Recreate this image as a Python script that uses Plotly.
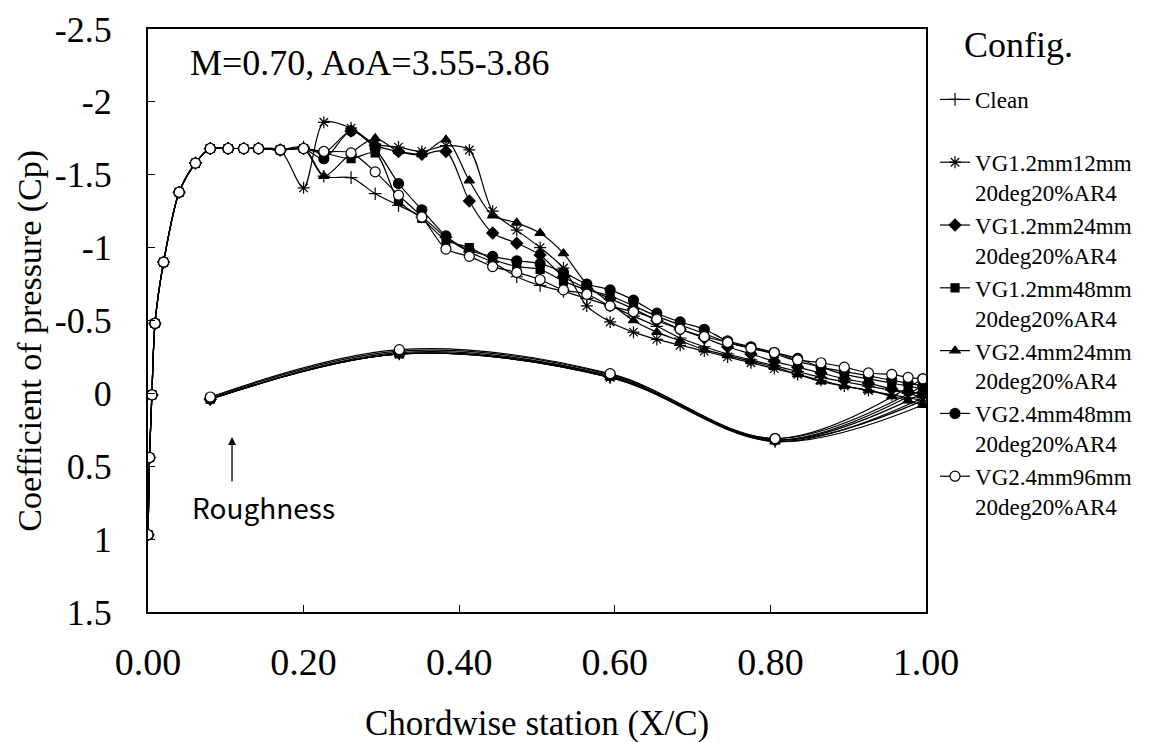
import plotly.graph_objects as go

# ---------------- data ----------------
X_UPPER = [0.000, 0.002, 0.005, 0.009, 0.020, 0.040, 0.061, 0.080, 0.103, 0.123, 0.142, 0.170,
           0.200, 0.226, 0.261, 0.292, 0.322, 0.352, 0.383, 0.413, 0.443, 0.474, 0.504, 0.534,
           0.564, 0.594, 0.624, 0.654, 0.684, 0.715, 0.745, 0.775, 0.805, 0.835, 0.865, 0.895,
           0.926, 0.956, 0.977, 0.996]
X_LOWER = [0.080, 0.323, 0.594, 0.806, 0.996]

CP_CLEAN = [0.97, 0.44, 0.01, -0.48, -0.90, -1.38, -1.58, -1.68, -1.68, -1.68, -1.68, -1.67,
            -1.69, -1.49, -1.48, -1.37, -1.29, -1.21, -1.07, -0.97, -0.90, -0.80, -0.74, -0.70,
            -0.65, -0.60, -0.53, -0.46, -0.38, -0.32, -0.27, -0.23, -0.19, -0.15, -0.11, -0.08,
            -0.05, -0.02, 0.00, 0.03]
CP_VG12_12 = [0.97, 0.44, 0.01, -0.48, -0.90, -1.38, -1.58, -1.68, -1.68, -1.68, -1.68, -1.67,
              -1.41, -1.86, -1.82, -1.71, -1.69, -1.66, -1.70, -1.67, -1.25, -1.12, -1.00, -0.86,
              -0.60, -0.49, -0.42, -0.37, -0.33, -0.29, -0.25, -0.21, -0.17, -0.13, -0.09, -0.05,
              -0.02, 0.01, 0.03, 0.05]
CP_VG12_24 = [0.97, 0.44, 0.01, -0.48, -0.90, -1.38, -1.58, -1.68, -1.68, -1.68, -1.68, -1.67,
              -1.68, -1.65, -1.80, -1.70, -1.66, -1.64, -1.66, -1.32, -1.10, -1.03, -0.95, -0.80,
              -0.72, -0.65, -0.58, -0.50, -0.44, -0.38, -0.32, -0.27, -0.22, -0.18, -0.14, -0.10,
              -0.07, -0.03, -0.01, 0.00]
CP_VG12_48 = [0.97, 0.44, 0.01, -0.48, -0.90, -1.38, -1.58, -1.68, -1.68, -1.68, -1.68, -1.67,
              -1.68, -1.65, -1.61, -1.65, -1.32, -1.20, -1.05, -1.00, -0.92, -0.87, -0.85, -0.77,
              -0.71, -0.67, -0.60, -0.53, -0.47, -0.41, -0.35, -0.31, -0.27, -0.22, -0.18, -0.13,
              -0.10, -0.07, -0.05, -0.03]
CP_VG24_24 = [0.97, 0.44, 0.01, -0.48, -0.90, -1.38, -1.58, -1.68, -1.68, -1.68, -1.68, -1.67,
              -1.68, -1.49, -1.65, -1.75, -1.66, -1.64, -1.74, -1.46, -1.22, -1.17, -1.10, -0.96,
              -0.75, -0.62, -0.50, -0.42, -0.36, -0.30, -0.26, -0.22, -0.18, -0.13, -0.08, -0.05,
              -0.02, 0.02, 0.05, 0.08]
CP_VG24_48 = [0.97, 0.44, 0.01, -0.48, -0.90, -1.38, -1.58, -1.68, -1.68, -1.68, -1.68, -1.67,
              -1.68, -1.61, -1.80, -1.68, -1.44, -1.26, -1.08, -0.98, -0.94, -0.91, -0.89, -0.83,
              -0.75, -0.71, -0.64, -0.55, -0.49, -0.44, -0.36, -0.32, -0.28, -0.24, -0.18, -0.15,
              -0.12, -0.09, -0.07, -0.05]
CP_VG24_96 = [0.97, 0.44, 0.01, -0.48, -0.90, -1.38, -1.58, -1.68, -1.68, -1.68, -1.68, -1.67,
              -1.68, -1.66, -1.65, -1.52, -1.36, -1.21, -0.99, -0.94, -0.87, -0.83, -0.78, -0.71,
              -0.68, -0.60, -0.56, -0.51, -0.44, -0.39, -0.35, -0.31, -0.28, -0.23, -0.21, -0.18,
              -0.14, -0.13, -0.11, -0.10]

CPL_CLEAN = [0.04, -0.27, -0.11, 0.33, 0.03]
CPL_VG12_12 = [0.04, -0.27, -0.11, 0.32, 0.05]
CPL_VG12_24 = [0.04, -0.28, -0.12, 0.32, 0.00]
CPL_VG12_48 = [0.04, -0.27, -0.12, 0.32, -0.03]
CPL_VG24_24 = [0.04, -0.27, -0.11, 0.33, 0.08]
CPL_VG24_48 = [0.03, -0.29, -0.13, 0.31, -0.05]
CPL_VG24_96 = [0.025, -0.30, -0.135, 0.31, -0.10]

NAMES = ["Clean<br> ", "VG1.2mm12mm<br>20deg20%AR4", "VG1.2mm24mm<br>20deg20%AR4",
         "VG1.2mm48mm<br>20deg20%AR4", "VG2.4mm24mm<br>20deg20%AR4",
         "VG2.4mm48mm<br>20deg20%AR4", "VG2.4mm96mm<br>20deg20%AR4"]

X_TICKS = [0.0, 0.2, 0.4, 0.6, 0.8, 1.0]
X_TICK_LABELS = ["0.00", "0.20", "0.40", "0.60", "0.80", "1.00"]
Y_TICKS = [-2.5, -2.0, -1.5, -1.0, -0.5, 0.0, 0.5, 1.0, 1.5]
Y_TICK_LABELS = ["-2.5", "-2", "-1.5", "-1", "-0.5", "0", "0.5", "1", "1.5"]

# ---------------- styles ----------------
UPPER = [CP_CLEAN, CP_VG12_12, CP_VG12_24, CP_VG12_48, CP_VG24_24, CP_VG24_48, CP_VG24_96]
LOWER = [CPL_CLEAN, CPL_VG12_12, CPL_VG12_24, CPL_VG12_48, CPL_VG24_24, CPL_VG24_48, CPL_VG24_96]
SYMBOLS = ["cross-thin-open", "asterisk-open", "diamond", "square", "triangle-up", "circle", "circle"]
SIZES = [9, 10, 9, 8, 9, 10, 10]
FILLS = ["black", "black", "black", "black", "black", "black", "white"]

SERIF = "Liberation Serif"
SANS_JP = "Noto Sans CJK JP"

fig = go.Figure()
for i, name in enumerate(NAMES):
    marker = dict(symbol=SYMBOLS[i], size=SIZES[i], color=FILLS[i],
                  line=dict(color="black", width=1.2))
    fig.add_trace(go.Scatter(
        x=X_UPPER, y=UPPER[i], mode="lines+markers", name=name,
        line=dict(color="black", width=1.2, shape="spline", smoothing=0.8),
        marker=marker, legendgroup=str(i), showlegend=True))
    fig.add_trace(go.Scatter(
        x=X_LOWER, y=LOWER[i], mode="lines+markers", name=name,
        line=dict(color="black", width=1.2, shape="spline", smoothing=1.0),
        marker=marker, legendgroup=str(i), showlegend=False))

fig.update_layout(
    width=1157, height=742,
    margin=dict(l=140, r=239, t=21, b=138, autoexpand=False),
    paper_bgcolor="white", plot_bgcolor="white",
    font=dict(family=SERIF, color="black"),
    showlegend=True,
    legend=dict(x=1.0116, y=0.916, xanchor="left", yanchor="top",
                font=dict(family=SERIF, size=23, color="black"),
                valign="top", tracegroupgap=0, itemwidth=30,
                bgcolor="rgba(0,0,0,0)"),
)
fig.update_xaxes(range=[0, 1], tickvals=X_TICKS, ticktext=X_TICK_LABELS,
                 ticks="inside", ticklen=7, tickcolor="black",
                 showline=True, linecolor="black", linewidth=2, mirror=True,
                 showgrid=False, zeroline=False, automargin=False,
                 tickfont=dict(family=SERIF, size=38), ticklabelstandoff=15)
fig.update_yaxes(range=[1.5, -2.5], tickvals=Y_TICKS, ticktext=Y_TICK_LABELS,
                 ticks="inside", ticklen=7, tickcolor="black",
                 showline=True, linecolor="black", linewidth=2, mirror=True,
                 showgrid=False, zeroline=False, automargin=False,
                 ticklabeloverflow="allow",
                 tickfont=dict(family=SERIF, size=36), ticklabelstandoff=27)

# titles and notes
fig.add_annotation(text="Chordwise station (X/C)", xref="paper", yref="paper",
                   x=0.5, y=-0.192, xanchor="center", yanchor="middle", showarrow=False,
                   font=dict(family=SERIF, size=35))
fig.add_annotation(text="Coefficient of pressure (Cp)", xref="paper", yref="paper",
                   x=-0.152, y=0.465, xanchor="center", yanchor="middle",
                   textangle=-90, showarrow=False,
                   font=dict(family=SERIF, size=34))
fig.add_annotation(text="M=0.70, AoA=3.55-3.86", xref="paper", yref="paper",
                   x=0.0514, y=0.9417, xanchor="left", yanchor="middle", showarrow=False,
                   font=dict(family=SERIF, size=36))
fig.add_annotation(text="Config.", xref="paper", yref="paper",
                   x=1.0, y=0.9726, xanchor="left", yanchor="middle", showarrow=False,
                   xshift=36, font=dict(family=SERIF, size=36))
fig.add_annotation(text="Roughness", xref="paper", yref="paper",
                   x=0.054, y=0.180, xanchor="left", yanchor="middle", showarrow=False,
                   font=dict(family=SANS_JP, size=28))
fig.add_annotation(text="", xref="paper", yref="paper", x=0.108, y=0.300,
                   ax=0, ay=46, showarrow=True, arrowhead=2, arrowsize=1.2,
                   arrowwidth=1.3, arrowcolor="black")

fig.write_html("out.html")
